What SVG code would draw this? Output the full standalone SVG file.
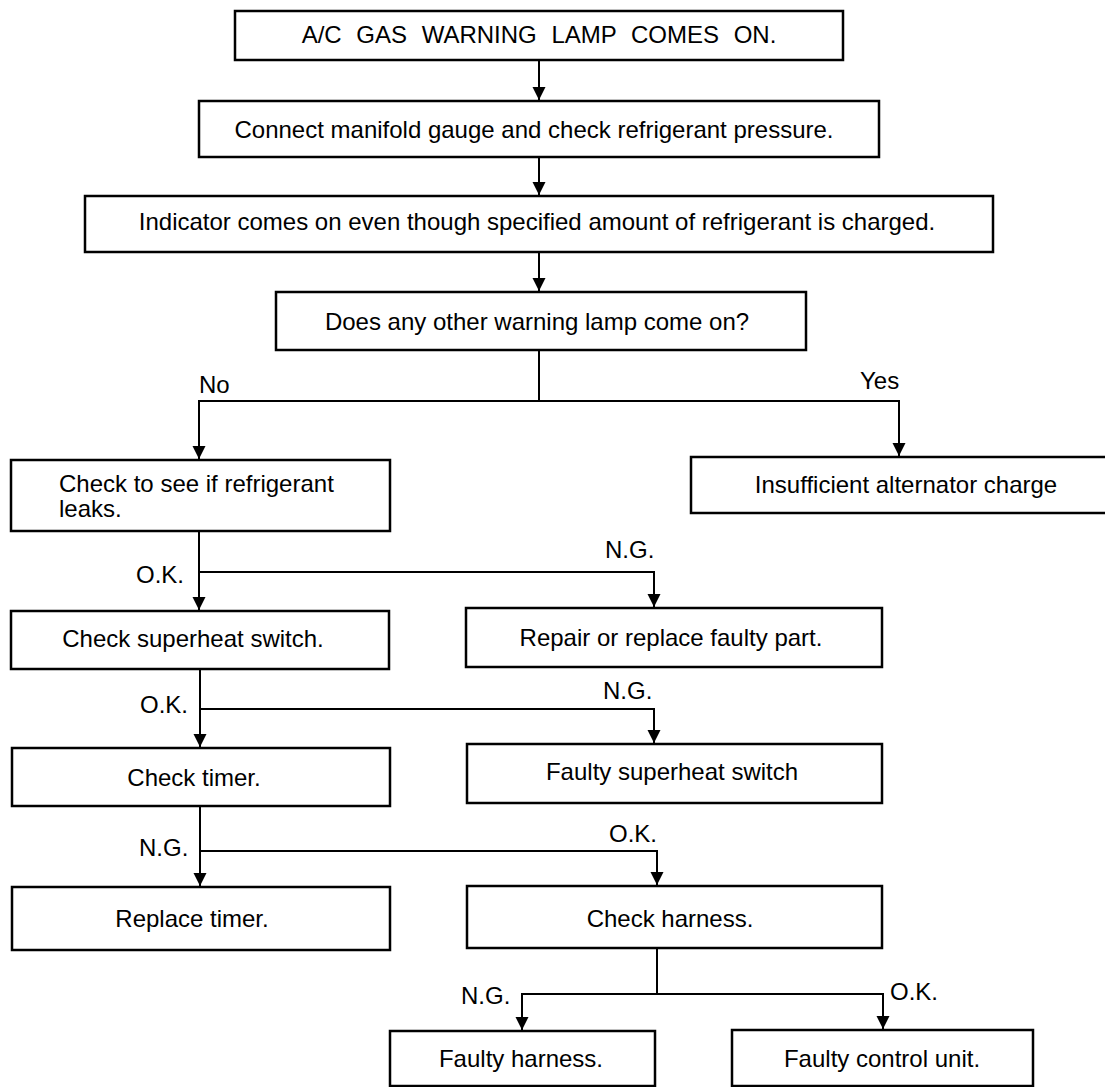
<svg xmlns="http://www.w3.org/2000/svg" width="1105" height="1087" viewBox="0 0 1105 1087">
<defs>
<style>
.box{fill:#fff;stroke:#000;stroke-width:2.5}
.t{font-family:"Liberation Sans",Arial,sans-serif;font-size:24px;fill:#000;text-anchor:middle}
.l{font-family:"Liberation Sans",Arial,sans-serif;font-size:24px;fill:#000}
.c{fill:none;stroke:#000;stroke-width:2}
</style>
<marker id="arr" markerUnits="userSpaceOnUse" markerWidth="14" markerHeight="14" viewBox="0 0 14 14" refX="13" refY="7" orient="auto">
<path d="M0,0.5 L13,7 L0,13.5 Z" fill="#000"/>
</marker>
</defs>
<rect width="1105" height="1087" fill="#fff"/>
<g id="connectors">
<line class="c" x1="539" y1="60" x2="539" y2="100" marker-end="url(#arr)"/>
<line class="c" x1="539" y1="157" x2="539" y2="195" marker-end="url(#arr)"/>
<line class="c" x1="539" y1="252" x2="539" y2="291" marker-end="url(#arr)"/>
<polyline class="c" points="539,350 539,401"/>
<polyline class="c" points="899,401 199,401 199,459" marker-end="url(#arr)"/>
<polyline class="c" points="539,401 899,401 899,456" marker-end="url(#arr)"/>
<line class="c" x1="199" y1="531" x2="199" y2="610" marker-end="url(#arr)"/>
<polyline class="c" points="199,572 654,572 654,607" marker-end="url(#arr)"/>
<line class="c" x1="200" y1="669" x2="200" y2="747" marker-end="url(#arr)"/>
<polyline class="c" points="200,709 654,709 654,743" marker-end="url(#arr)"/>
<line class="c" x1="200" y1="806" x2="200" y2="886" marker-end="url(#arr)"/>
<polyline class="c" points="200,851 657,851 657,885" marker-end="url(#arr)"/>
<line class="c" x1="657" y1="948" x2="657" y2="994"/>
<polyline class="c" points="657,994 522,994 522,1030" marker-end="url(#arr)"/>
<polyline class="c" points="657,994 883,994 883,1029" marker-end="url(#arr)"/>
</g>
<g id="labels">
<text class="l" x="199" y="393">No</text>
<text class="l" x="860" y="389">Yes</text>
<text class="l" x="136" y="583">O.K.</text>
<text class="l" x="605" y="558">N.G.</text>
<text class="l" x="140" y="713">O.K.</text>
<text class="l" x="603" y="699">N.G.</text>
<text class="l" x="139" y="856">N.G.</text>
<text class="l" x="609" y="842">O.K.</text>
<text class="l" x="461" y="1004">N.G.</text>
<text class="l" x="890" y="1000">O.K.</text>
</g>
<g id="n1"><rect class="box" x="235" y="11" width="608" height="49"/><text class="t" x="539" y="43" word-spacing="8">A/C GAS WARNING LAMP COMES ON.</text></g>
<g id="n2"><rect class="box" x="199" y="101" width="680" height="56"/><text class="t" x="534" y="138">Connect manifold gauge and check refrigerant pressure.</text></g>
<g id="n3"><rect class="box" x="85" y="196" width="908" height="56"/><text class="t" x="537" y="230">Indicator comes on even though specified amount of refrigerant is charged.</text></g>
<g id="n4"><rect class="box" x="276" y="292" width="530" height="58"/><text class="t" x="537" y="330">Does any other warning lamp come on?</text></g>
<g id="n5"><rect class="box" x="11" y="460" width="379" height="71"/><text class="l" x="59" y="492">Check to see if refrigerant</text><text class="l" x="59" y="517">leaks.</text></g>
<g id="n6"><rect class="box" x="691" y="457" width="420" height="56"/><text class="t" x="906" y="493">Insufficient alternator charge</text></g>
<g id="n7"><rect class="box" x="11" y="611" width="378" height="58"/><text class="t" x="193" y="647">Check superheat switch.</text></g>
<g id="n8"><rect class="box" x="466" y="608" width="416" height="59"/><text class="t" x="671" y="646">Repair or replace faulty part.</text></g>
<g id="n9"><rect class="box" x="12" y="748" width="378" height="58"/><text class="t" x="194" y="786">Check timer.</text></g>
<g id="n10"><rect class="box" x="467" y="744" width="415" height="59"/><text class="t" x="672" y="780">Faulty superheat switch</text></g>
<g id="n11"><rect class="box" x="12" y="887" width="378" height="63"/><text class="t" x="192" y="927">Replace timer.</text></g>
<g id="n12"><rect class="box" x="467" y="886" width="415" height="62"/><text class="t" x="670" y="927">Check harness.</text></g>
<g id="n13"><rect class="box" x="390" y="1031" width="265" height="55"/><text class="t" x="521" y="1067">Faulty harness.</text></g>
<g id="n14"><rect class="box" x="732" y="1030" width="301" height="56"/><text class="t" x="882" y="1067">Faulty control unit.</text></g>
</svg>
